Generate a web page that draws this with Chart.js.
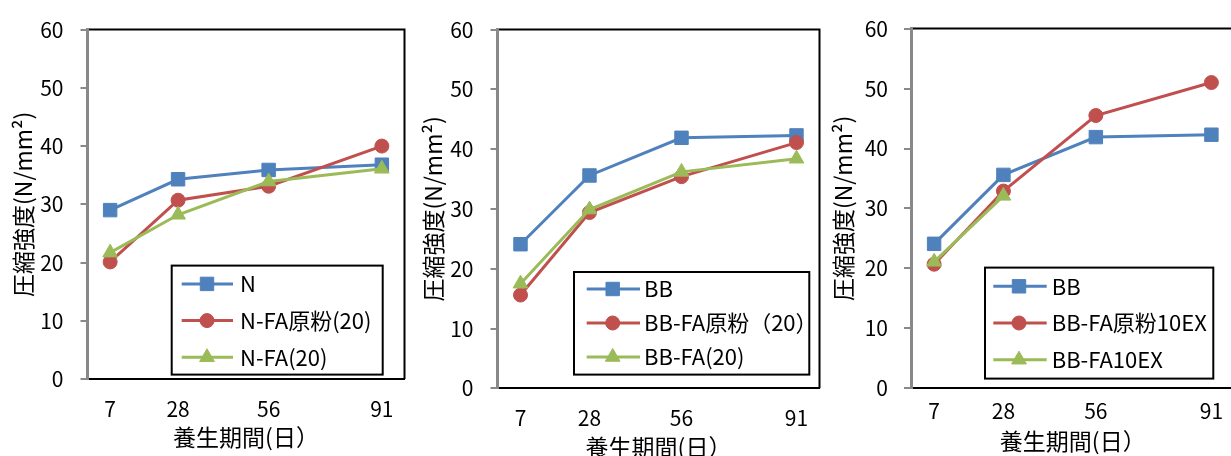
<!DOCTYPE html>
<html lang="ja">
<head>
<meta charset="utf-8">
<title>圧縮強度と養生期間</title>
<script src="https://cdn.jsdelivr.net/npm/chart.js@4.4.1/dist/chart.umd.min.js"></script>
<style>
  html, body { margin: 0; padding: 0; width: 1231px; height: 456px; overflow: hidden; background: #fff; }
  .panel { position: absolute; top: 0; }
  .panel canvas { display: block; }
</style>
</head>
<body>
<div class="panel" style="left:0px"><canvas id="c1" width="415" height="456"></canvas></div>
<div class="panel" style="left:415px"><canvas id="c2" width="415" height="470"></canvas></div>
<div class="panel" style="left:825px"><canvas id="c3" width="420" height="456"></canvas></div>
<script>
// Curing age (days) and compressive strength (N/mm²)
const AGE_DAYS = [7, 28, 56, 91];
const AGE_TICKS = [7, 28, 56, 91];

const N_PLAIN = [29.0, 34.3, 35.9, 36.8];
const N_FA_RAW_20 = [20.1, 30.7, 33.1, 40.0];
const N_FA_20 = [21.7, 28.2, 33.9, 36.1];

const BB_PLAIN = [24.1, 35.6, 41.9, 42.3];
const BB_FA_RAW_20 = [15.6, 29.4, 35.4, 41.1];
const BB_FA_20 = [17.5, 29.9, 36.2, 38.4];

const BB_FA_RAW_10EX = [20.7, 32.9, 45.5, 51.0];
const BB_FA_10EX = [21.1, 32.1];

const LABELS_N = ['N', 'N-FA原粉(20)', 'N-FA(20)'];
const LABELS_BB20 = ['BB', 'BB-FA原粉（20）', 'BB-FA(20)'];
const LABELS_BB10EX = ['BB', 'BB-FA原粉10EX', 'BB-FA10EX'];

const Y_TITLE = '圧縮強度(N/mm²)';
const X_TITLE = '養生期間(日）';

// Series look: blue squares, red circles, green triangles
const STYLES = [
  { color: '#4F81BD', marker: 'rect', radius: 9.5 },
  { color: '#C0504D', marker: 'circle', radius: 7 },
  { color: '#9BBB59', marker: 'triangle', radius: 8.5 }
];

const FONT = "'Noto Sans CJK JP', 'Noto Sans', sans-serif";
const AXIS_GRAY = '#898989';

function drawMarker(ctx, style, x, y) {
  const r = style.radius;
  ctx.beginPath();
  if (style.marker === 'rect') {
    const h = r * Math.SQRT1_2;
    ctx.rect(x - h, y - h, 2 * h, 2 * h);
  } else if (style.marker === 'triangle') {
    for (let k = 0; k < 3; k++) {
      const a = k * 2 * Math.PI / 3;
      const px = x + Math.sin(a) * r, py = y - Math.cos(a) * r;
      if (k === 0) ctx.moveTo(px, py); else ctx.lineTo(px, py);
    }
    ctx.closePath();
  } else {
    ctx.arc(x, y, r, 0, Math.PI * 2);
  }
  ctx.fillStyle = style.color;
  ctx.strokeStyle = style.color;
  ctx.lineWidth = 1;
  ctx.fill();
  ctx.stroke();
}

// Plot frame (top/right edges) and the boxed legend inside the plot area
const frameLegend = {
  id: 'frameLegend',
  beforeDraw(chart) {
    const { ctx, chartArea: a } = chart;
    ctx.save();
    ctx.strokeStyle = '#000';
    ctx.lineWidth = 2;
    ctx.beginPath();
    ctx.moveTo(a.left, a.top);
    ctx.lineTo(a.right, a.top);
    ctx.lineTo(a.right, a.bottom);
    ctx.stroke();
    ctx.restore();
  },
  afterDatasetsDraw(chart, args, opts) {
    const { ctx, chartArea: a } = chart;
    const bx = a.left + opts.x, by = a.top + opts.y;
    ctx.save();
    ctx.fillStyle = '#fff';
    ctx.fillRect(bx, by, opts.w, opts.h);
    ctx.strokeStyle = '#000';
    ctx.lineWidth = 2;
    ctx.strokeRect(bx, by, opts.w, opts.h);
    ctx.font = '22px ' + FONT;
    ctx.textBaseline = 'middle';
    ctx.textAlign = 'left';
    chart.data.datasets.forEach((ds, i) => {
      const style = STYLES[i];
      const ry = by + opts.first + i * opts.gap;
      ctx.strokeStyle = style.color;
      ctx.lineWidth = 3;
      ctx.beginPath();
      ctx.moveTo(bx + opts.lineFrom, ry);
      ctx.lineTo(bx + opts.lineTo, ry);
      ctx.stroke();
      drawMarker(ctx, style, bx + opts.marker, ry);
      ctx.fillStyle = '#000';
      ctx.fillText(ds.label, bx + opts.text, ry);
    });
    ctx.restore();
  }
};

const PANELS = [
  {
    canvas: 'c1', series: [N_PLAIN, N_FA_RAW_20, N_FA_20], labels: LABELS_N,
    pad: { left: 0, top: 20.7, right: 2, bottom: 0 },
    yWidth: 87.5, xHeight: 77, yTitlePad: 9.5, yTickPad: 17, xTickPad: 17.4, xTitlePad: 5.2,
    legend: { x: 84.2, y: 236, w: 211, h: 109, first: 18.3, gap: 36.7, lineFrom: 10, lineTo: 61.3, marker: 35.3, text: 68.3 }
  },
  {
    canvas: 'c2', series: [BB_PLAIN, BB_FA_RAW_20, BB_FA_20], labels: LABELS_BB20,
    pad: { left: 0, top: 23.3, right: 4, bottom: 0 },
    yWidth: 82.5, xHeight: 81.7, yTitlePad: 4.5, yTickPad: 17, xTickPad: 17.1, xTitlePad: 9.2,
    legend: { x: 76.5, y: 242.4, w: 235.3, h: 102.6, first: 17, gap: 34, lineFrom: 12.7, lineTo: 66, marker: 38.7, text: 70 }
  },
  {
    canvas: 'c3', series: [BB_PLAIN, BB_FA_RAW_10EX, BB_FA_10EX], labels: LABELS_BB10EX,
    pad: { left: 0, top: 23.3, right: 5, bottom: 0 },
    yWidth: 86, xHeight: 67.7, yTitlePad: 4.5, yTickPad: 16, xTickPad: 10.1, xTitlePad: 1.2,
    legend: { x: 74, y: 239, w: 228.3, h: 111, first: 18.7, gap: 36.7, lineFrom: 8.3, lineTo: 61.7, marker: 34, text: 66.7 }
  }
];

Chart.defaults.font.family = FONT;
Chart.defaults.color = '#000';

PANELS.forEach(p => {
  const datasets = p.series.map((values, i) => ({
    label: p.labels[i],
    data: values.map((v, k) => ({ x: AGE_DAYS[k], y: v })),
    borderColor: STYLES[i].color,
    backgroundColor: STYLES[i].color,
    pointBackgroundColor: STYLES[i].color,
    pointBorderColor: STYLES[i].color,
    pointStyle: STYLES[i].marker,
    pointRadius: STYLES[i].radius,
    pointBorderWidth: 1,
    borderWidth: 3,
    tension: 0,
    order: 3 - i
  }));

  new Chart(document.getElementById(p.canvas), {
    type: 'line',
    data: { datasets },
    plugins: [frameLegend],
    options: {
      responsive: false,
      animation: false,
      events: [],
      layout: { padding: p.pad },
      plugins: {
        legend: { display: false },
        tooltip: { enabled: false },
        frameLegend: p.legend
      },
      scales: {
        x: {
          type: 'linear',
          min: 0,
          max: 98,
          afterBuildTicks: axis => { axis.ticks = AGE_TICKS.map(v => ({ value: v })); },
          afterFit: axis => { axis.height = p.xHeight; },
          grid: { display: false, drawTicks: false },
          border: { display: true, color: '#000', width: 2 },
          ticks: { font: { size: 21 }, color: '#000', padding: p.xTickPad, maxRotation: 0, autoSkip: false },
          title: { display: true, text: X_TITLE, font: { size: 23 }, color: '#000', padding: { top: 0, bottom: p.xTitlePad } }
        },
        y: {
          min: 0,
          max: 60,
          afterFit: axis => { axis.width = p.yWidth; },
          grid: { drawOnChartArea: false, drawTicks: true, tickLength: 7, color: AXIS_GRAY, lineWidth: 2 },
          border: { display: true, color: AXIS_GRAY, width: 3 },
          ticks: { stepSize: 10, font: { size: 21 }, color: '#000', padding: p.yTickPad },
          title: { display: true, text: Y_TITLE, font: { size: 23 }, color: '#000', padding: { top: p.yTitlePad, bottom: 0 } }
        }
      }
    }
  });
});
</script>
</body>
</html>
